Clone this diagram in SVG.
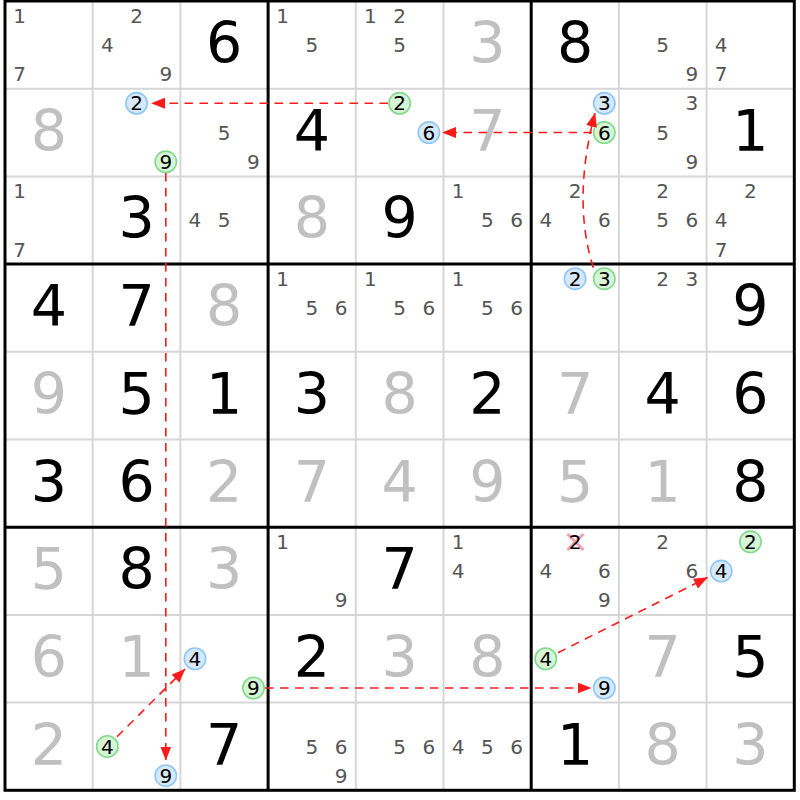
<svg xmlns="http://www.w3.org/2000/svg" width="800" height="800" viewBox="0 0 800 800">
<style>
.c{font-family:"DejaVu Sans",sans-serif;font-size:20px;fill:#555;text-anchor:middle}
.k{font-family:"DejaVu Sans",sans-serif;font-size:20px;fill:#000;text-anchor:middle}
.b{font-family:"DejaVu Sans",sans-serif;font-size:57px;fill:#000;text-anchor:middle}
.g{font-family:"DejaVu Sans",sans-serif;font-size:57px;fill:#c0c0c0;text-anchor:middle}
.hb{fill:#d6e9fc;stroke:#8ec6f6;stroke-width:1.6}
.hg{fill:#d6f5d6;stroke:#82d98c;stroke-width:1.6}
.thin{stroke:#d6d6d6;stroke-width:2}
.thick{stroke:#000;stroke-width:3}
.cn{fill:none;stroke:#ff1a1a;stroke-width:1.6;stroke-dasharray:8.5 6.5;marker-end:url(#ah)}
.x{stroke:#f5a0aa;stroke-width:3}
</style>
<defs>
<marker id="ah" markerUnits="userSpaceOnUse" markerWidth="15" markerHeight="12" refX="13.5" refY="5.5" orient="auto">
<path d="M0,0 L14,5.5 L0,11 Z" fill="#ff1a1a"/>
</marker>
</defs>
<rect width="800" height="800" fill="#fff"/>
<g id="grid">
<path class="thin" d="M92.7,1V790.3M180.4,1V790.3M355.8,1V790.3M443.5,1V790.3M618.9,1V790.3M706.6,1V790.3M5,88.7H794.3M5,176.4H794.3M5,351.8H794.3M5,439.5H794.3M5,614.9H794.3M5,702.6H794.3"/>
<path class="thick" d="M268.1,1V790.3M531.2,1V790.3M5,264.1H794.3M5,527.2H794.3"/>
<rect x="5" y="1" width="789.3" height="789.3" fill="none" stroke="#000" stroke-width="3"/>
</g>
<g id="cells">
<!-- row 1 -->
<g id="r1c1" transform="translate(5,1)"><text class="c" x="14.6" y="21.8">1</text><text class="c" x="14.6" y="80.3">7</text></g>
<g id="r1c2" transform="translate(92.7,1)"><text class="c" x="43.85" y="21.8">2</text><text class="c" x="14.6" y="51.05">4</text><text class="c" x="73.1" y="80.3">9</text></g>
<g id="r1c3" transform="translate(180.4,1)"><text class="b" x="43.85" y="62">6</text></g>
<g id="r1c4" transform="translate(268.1,1)"><text class="c" x="14.6" y="21.8">1</text><text class="c" x="43.85" y="51.05">5</text></g>
<g id="r1c5" transform="translate(355.8,1)"><text class="c" x="14.6" y="21.8">1</text><text class="c" x="43.85" y="21.8">2</text><text class="c" x="43.85" y="51.05">5</text></g>
<g id="r1c6" transform="translate(443.5,1)"><text class="g" x="43.85" y="62">3</text></g>
<g id="r1c7" transform="translate(531.2,1)"><text class="b" x="43.85" y="62">8</text></g>
<g id="r1c8" transform="translate(618.9,1)"><text class="c" x="43.85" y="51.05">5</text><text class="c" x="73.1" y="80.3">9</text></g>
<g id="r1c9" transform="translate(706.6,1)"><text class="c" x="14.6" y="51.05">4</text><text class="c" x="14.6" y="80.3">7</text></g>
<!-- row 2 -->
<g id="r2c1" transform="translate(5,88.7)"><text class="g" x="43.85" y="62">8</text></g>
<g id="r2c2" transform="translate(92.7,88.7)"><circle class="hb" cx="43.85" cy="14.6" r="10.7"/><text class="k" x="43.85" y="21.8">2</text><circle class="hg" cx="73.1" cy="73.1" r="10.7"/><text class="k" x="73.1" y="80.3">9</text></g>
<g id="r2c3" transform="translate(180.4,88.7)"><text class="c" x="43.85" y="51.05">5</text><text class="c" x="73.1" y="80.3">9</text></g>
<g id="r2c4" transform="translate(268.1,88.7)"><text class="b" x="43.85" y="62">4</text></g>
<g id="r2c5" transform="translate(355.8,88.7)"><circle class="hg" cx="43.85" cy="14.6" r="10.7"/><text class="k" x="43.85" y="21.8">2</text><circle class="hb" cx="73.1" cy="43.85" r="10.7"/><text class="k" x="73.1" y="51.05">6</text></g>
<g id="r2c6" transform="translate(443.5,88.7)"><text class="g" x="43.85" y="62">7</text></g>
<g id="r2c7" transform="translate(531.2,88.7)"><circle class="hb" cx="73.1" cy="14.6" r="10.7"/><text class="k" x="73.1" y="21.8">3</text><circle class="hg" cx="73.1" cy="43.85" r="10.7"/><text class="k" x="73.1" y="51.05">6</text></g>
<g id="r2c8" transform="translate(618.9,88.7)"><text class="c" x="73.1" y="21.8">3</text><text class="c" x="43.85" y="51.05">5</text><text class="c" x="73.1" y="80.3">9</text></g>
<g id="r2c9" transform="translate(706.6,88.7)"><text class="b" x="43.85" y="62">1</text></g>
<!-- row 3 -->
<g id="r3c1" transform="translate(5,176.4)"><text class="c" x="14.6" y="21.8">1</text><text class="c" x="14.6" y="80.3">7</text></g>
<g id="r3c2" transform="translate(92.7,176.4)"><text class="b" x="43.85" y="62">3</text></g>
<g id="r3c3" transform="translate(180.4,176.4)"><text class="c" x="14.6" y="51.05">4</text><text class="c" x="43.85" y="51.05">5</text></g>
<g id="r3c4" transform="translate(268.1,176.4)"><text class="g" x="43.85" y="62">8</text></g>
<g id="r3c5" transform="translate(355.8,176.4)"><text class="b" x="43.85" y="62">9</text></g>
<g id="r3c6" transform="translate(443.5,176.4)"><text class="c" x="14.6" y="21.8">1</text><text class="c" x="43.85" y="51.05">5</text><text class="c" x="73.1" y="51.05">6</text></g>
<g id="r3c7" transform="translate(531.2,176.4)"><text class="c" x="43.85" y="21.8">2</text><text class="c" x="14.6" y="51.05">4</text><text class="c" x="73.1" y="51.05">6</text></g>
<g id="r3c8" transform="translate(618.9,176.4)"><text class="c" x="43.85" y="21.8">2</text><text class="c" x="43.85" y="51.05">5</text><text class="c" x="73.1" y="51.05">6</text></g>
<g id="r3c9" transform="translate(706.6,176.4)"><text class="c" x="43.85" y="21.8">2</text><text class="c" x="14.6" y="51.05">4</text><text class="c" x="14.6" y="80.3">7</text></g>
<!-- row 4 -->
<g id="r4c1" transform="translate(5,264.1)"><text class="b" x="43.85" y="62">4</text></g>
<g id="r4c2" transform="translate(92.7,264.1)"><text class="b" x="43.85" y="62">7</text></g>
<g id="r4c3" transform="translate(180.4,264.1)"><text class="g" x="43.85" y="62">8</text></g>
<g id="r4c4" transform="translate(268.1,264.1)"><text class="c" x="14.6" y="21.8">1</text><text class="c" x="43.85" y="51.05">5</text><text class="c" x="73.1" y="51.05">6</text></g>
<g id="r4c5" transform="translate(355.8,264.1)"><text class="c" x="14.6" y="21.8">1</text><text class="c" x="43.85" y="51.05">5</text><text class="c" x="73.1" y="51.05">6</text></g>
<g id="r4c6" transform="translate(443.5,264.1)"><text class="c" x="14.6" y="21.8">1</text><text class="c" x="43.85" y="51.05">5</text><text class="c" x="73.1" y="51.05">6</text></g>
<g id="r4c7" transform="translate(531.2,264.1)"><circle class="hb" cx="43.85" cy="14.6" r="10.7"/><text class="k" x="43.85" y="21.8">2</text><circle class="hg" cx="73.1" cy="14.6" r="10.7"/><text class="k" x="73.1" y="21.8">3</text></g>
<g id="r4c8" transform="translate(618.9,264.1)"><text class="c" x="43.85" y="21.8">2</text><text class="c" x="73.1" y="21.8">3</text></g>
<g id="r4c9" transform="translate(706.6,264.1)"><text class="b" x="43.85" y="62">9</text></g>
<!-- row 5 -->
<g id="r5c1" transform="translate(5,351.8)"><text class="g" x="43.85" y="62">9</text></g>
<g id="r5c2" transform="translate(92.7,351.8)"><text class="b" x="43.85" y="62">5</text></g>
<g id="r5c3" transform="translate(180.4,351.8)"><text class="b" x="43.85" y="62">1</text></g>
<g id="r5c4" transform="translate(268.1,351.8)"><text class="b" x="43.85" y="62">3</text></g>
<g id="r5c5" transform="translate(355.8,351.8)"><text class="g" x="43.85" y="62">8</text></g>
<g id="r5c6" transform="translate(443.5,351.8)"><text class="b" x="43.85" y="62">2</text></g>
<g id="r5c7" transform="translate(531.2,351.8)"><text class="g" x="43.85" y="62">7</text></g>
<g id="r5c8" transform="translate(618.9,351.8)"><text class="b" x="43.85" y="62">4</text></g>
<g id="r5c9" transform="translate(706.6,351.8)"><text class="b" x="43.85" y="62">6</text></g>
<!-- row 6 -->
<g id="r6c1" transform="translate(5,439.5)"><text class="b" x="43.85" y="62">3</text></g>
<g id="r6c2" transform="translate(92.7,439.5)"><text class="b" x="43.85" y="62">6</text></g>
<g id="r6c3" transform="translate(180.4,439.5)"><text class="g" x="43.85" y="62">2</text></g>
<g id="r6c4" transform="translate(268.1,439.5)"><text class="g" x="43.85" y="62">7</text></g>
<g id="r6c5" transform="translate(355.8,439.5)"><text class="g" x="43.85" y="62">4</text></g>
<g id="r6c6" transform="translate(443.5,439.5)"><text class="g" x="43.85" y="62">9</text></g>
<g id="r6c7" transform="translate(531.2,439.5)"><text class="g" x="43.85" y="62">5</text></g>
<g id="r6c8" transform="translate(618.9,439.5)"><text class="g" x="43.85" y="62">1</text></g>
<g id="r6c9" transform="translate(706.6,439.5)"><text class="b" x="43.85" y="62">8</text></g>
<!-- row 7 -->
<g id="r7c1" transform="translate(5,527.2)"><text class="g" x="43.85" y="62">5</text></g>
<g id="r7c2" transform="translate(92.7,527.2)"><text class="b" x="43.85" y="62">8</text></g>
<g id="r7c3" transform="translate(180.4,527.2)"><text class="g" x="43.85" y="62">3</text></g>
<g id="r7c4" transform="translate(268.1,527.2)"><text class="c" x="14.6" y="21.8">1</text><text class="c" x="73.1" y="80.3">9</text></g>
<g id="r7c5" transform="translate(355.8,527.2)"><text class="b" x="43.85" y="62">7</text></g>
<g id="r7c6" transform="translate(443.5,527.2)"><text class="c" x="14.6" y="21.8">1</text><text class="c" x="14.6" y="51.05">4</text></g>
<g id="r7c7" transform="translate(531.2,527.2)"><path class="x" d="M36.3,6.8L52.3,22.8M52.3,6.8L36.3,22.8"/><text class="k" x="43.85" y="21.8">2</text><text class="c" x="14.6" y="51.05">4</text><text class="c" x="73.1" y="51.05">6</text><text class="c" x="73.1" y="80.3">9</text></g>
<g id="r7c8" transform="translate(618.9,527.2)"><text class="c" x="43.85" y="21.8">2</text><text class="c" x="73.1" y="51.05">6</text></g>
<g id="r7c9" transform="translate(706.6,527.2)"><circle class="hg" cx="43.85" cy="14.6" r="10.7"/><text class="k" x="43.85" y="21.8">2</text><circle class="hb" cx="14.6" cy="43.85" r="10.7"/><text class="k" x="14.6" y="51.05">4</text></g>
<!-- row 8 -->
<g id="r8c1" transform="translate(5,614.9)"><text class="g" x="43.85" y="62">6</text></g>
<g id="r8c2" transform="translate(92.7,614.9)"><text class="g" x="43.85" y="62">1</text></g>
<g id="r8c3" transform="translate(180.4,614.9)"><circle class="hb" cx="14.6" cy="43.85" r="10.7"/><text class="k" x="14.6" y="51.05">4</text><circle class="hg" cx="73.1" cy="73.1" r="10.7"/><text class="k" x="73.1" y="80.3">9</text></g>
<g id="r8c4" transform="translate(268.1,614.9)"><text class="b" x="43.85" y="62">2</text></g>
<g id="r8c5" transform="translate(355.8,614.9)"><text class="g" x="43.85" y="62">3</text></g>
<g id="r8c6" transform="translate(443.5,614.9)"><text class="g" x="43.85" y="62">8</text></g>
<g id="r8c7" transform="translate(531.2,614.9)"><circle class="hg" cx="14.6" cy="43.85" r="10.7"/><text class="k" x="14.6" y="51.05">4</text><circle class="hb" cx="73.1" cy="73.1" r="10.7"/><text class="k" x="73.1" y="80.3">9</text></g>
<g id="r8c8" transform="translate(618.9,614.9)"><text class="g" x="43.85" y="62">7</text></g>
<g id="r8c9" transform="translate(706.6,614.9)"><text class="b" x="43.85" y="62">5</text></g>
<!-- row 9 -->
<g id="r9c1" transform="translate(5,702.6)"><text class="g" x="43.85" y="62">2</text></g>
<g id="r9c2" transform="translate(92.7,702.6)"><circle class="hg" cx="14.6" cy="43.85" r="10.7"/><text class="k" x="14.6" y="51.05">4</text><circle class="hb" cx="73.1" cy="73.1" r="10.7"/><text class="k" x="73.1" y="80.3">9</text></g>
<g id="r9c3" transform="translate(180.4,702.6)"><text class="b" x="43.85" y="62">7</text></g>
<g id="r9c4" transform="translate(268.1,702.6)"><text class="c" x="43.85" y="51.05">5</text><text class="c" x="73.1" y="51.05">6</text><text class="c" x="73.1" y="80.3">9</text></g>
<g id="r9c5" transform="translate(355.8,702.6)"><text class="c" x="43.85" y="51.05">5</text><text class="c" x="73.1" y="51.05">6</text></g>
<g id="r9c6" transform="translate(443.5,702.6)"><text class="c" x="14.6" y="51.05">4</text><text class="c" x="43.85" y="51.05">5</text><text class="c" x="73.1" y="51.05">6</text></g>
<g id="r9c7" transform="translate(531.2,702.6)"><text class="b" x="43.85" y="62">1</text></g>
<g id="r9c8" transform="translate(618.9,702.6)"><text class="g" x="43.85" y="62">8</text></g>
<g id="r9c9" transform="translate(706.6,702.6)"><text class="g" x="43.85" y="62">3</text></g>
</g>
<g id="connectors">
<path class="cn" d="M388,103.3H151.5"/>
<path class="cn" d="M592,132.55H442.5"/>
<path class="cn" d="M593.3,267.7Q572,200 595,113.3"/>
<path class="cn" d="M165.8,173V760"/>
<path class="cn" d="M117,736.8L185,669"/>
<path class="cn" d="M265,688H591"/>
<path class="cn" d="M558,652.7L707.5,577.5"/>
</g>
</svg>
